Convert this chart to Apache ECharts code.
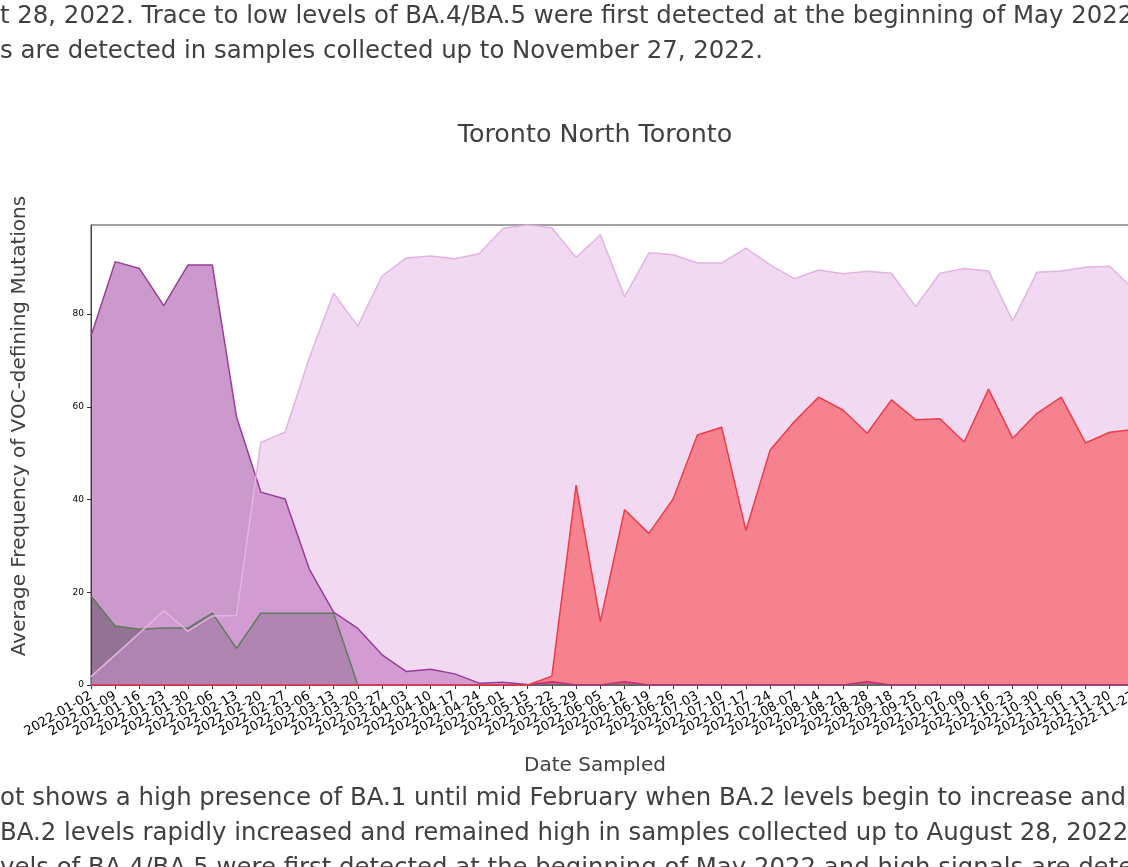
<!DOCTYPE html>
<html>
<head>
<meta charset="utf-8">
<script src="https://cdn.jsdelivr.net/npm/echarts@6/dist/echarts.min.js"></script>
<style>
html, body { margin: 0; padding: 0; width: 1128px; height: 867px; overflow: hidden; background: #fff; }
#chart { position: absolute; left: 0; top: 0; width: 1160px; height: 867px; }
.para { position: absolute; left: 0; white-space: nowrap; font-family: 'DejaVu Sans'; font-size: 24.4px; line-height: 35px; color: #404040; }
</style>
</head>
<body>
<div id="chart"></div>
<div class="para" style="top:-3px">t 28, 2022. Trace to low levels of BA.4/BA.5 were first detected at the beginning of May 2022</div>
<div class="para" style="top:32px">s are detected in samples collected up to November 27, 2022.</div>
<div class="para" style="top:779px">ot shows a high presence of BA.1 until mid February when BA.2 levels begin to increase and</div>
<div class="para" style="top:814px">BA.2 levels rapidly increased and remained high in samples collected up to August 28, 2022.</div>
<div class="para" style="top:849px">vels of BA.4/BA.5 were first detected at the beginning of May 2022 and high signals are detected</div>
<script>
const dates = ['2022-01-02','2022-01-09','2022-01-16','2022-01-23','2022-01-30','2022-02-06','2022-02-13','2022-02-20','2022-02-27','2022-03-06','2022-03-13','2022-03-20','2022-03-27','2022-04-03','2022-04-10','2022-04-17','2022-04-24','2022-05-01','2022-05-15','2022-05-22','2022-05-29','2022-06-05','2022-06-12','2022-06-19','2022-06-26','2022-07-03','2022-07-10','2022-07-17','2022-07-24','2022-08-07','2022-08-14','2022-08-21','2022-08-28','2022-09-18','2022-09-25','2022-10-02','2022-10-09','2022-10-16','2022-10-23','2022-10-30','2022-11-06','2022-11-13','2022-11-20','2022-11-27'];

const ba1 = [75.2, 91.3, 89.8, 81.8, 90.6, 90.6, 57.8, 41.6, 40.1, 25.0, 15.7, 12.2, 6.5, 2.9, 3.4, 2.4, 0.4, 0.6, 0.1, 0, 0, 0, 0, 0, 0, 0, 0, 0, 0, 0, 0, 0, 0, 0, 0, 0, 0, 0, 0, 0, 0, 0, 0, 0];
const other = [19.2, 12.7, 12.0, 12.3, 12.3, 15.5, 7.9, 15.5, 15.5, 15.5, 15.5, 0, 0, 0, 0, 0, 0, 0, 0, 0, 0, 0, 0, 0, 0, 0, 0, 0, 0, 0, 0, 0, 0, 0, 0, 0, 0, 0, 0, 0, 0, 0, 0, 0];
const ba2 = [1.8, 6.5, 11.2, 16.0, 11.6, 14.9, 15.0, 52.3, 54.5, 70.5, 84.5, 77.4, 88.2, 92.1, 92.5, 91.9, 93.0, 98.5, 99.2, 98.6, 92.2, 97.1, 83.7, 93.2, 92.8, 91.0, 91.0, 94.2, 90.6, 87.6, 89.5, 88.7, 89.2, 88.8, 81.6, 88.8, 89.8, 89.3, 78.5, 89.0, 89.3, 90.1, 90.3, 85.2];
const ba5 = [0, 0, 0, 0, 0, 0, 0, 0, 0, 0, 0, 0, 0, 0, 0, 0, 0, 0, 0, 1.9, 43.1, 13.7, 37.8, 32.7, 40.1, 53.9, 55.6, 33.3, 50.7, 56.8, 62.1, 59.3, 54.3, 61.5, 57.2, 57.4, 52.4, 63.8, 53.2, 58.6, 62.1, 52.2, 54.5, 55.1];
const ba4 = [0, 0, 0, 0, 0, 0, 0, 0, 0, 0, 0, 0, 0, 0, 0, 0, 0, 0, 0, 0.7, 0, 0, 0.7, 0, 0, 0, 0, 0, 0, 0, 0, 0, 0.7, 0, 0, 0, 0, 0, 0, 0, 0, 0, 0, 0];
const yTicks = [0, 20, 40, 60, 80];

const layers = [
  { name: 'BA.1', data: ba1, fill: 'rgba(128,0,128,0.4)', line: '#9a3d9a' },
  { name: 'Other', data: other, fill: 'rgba(40,40,40,0.35)', line: '#5f7a5f' },
  { name: 'BA.2', data: ba2, fill: 'rgba(221,160,221,0.4)', line: '#e2b4e2' },
  { name: 'BA.4', data: ba4, fill: 'rgba(199,21,133,0.4)', line: '#b8307a' },
  { name: 'BA.5', data: ba5, fill: 'rgba(255,0,0,0.4)', line: '#f03c48' }
];

const series = [];
layers.forEach((l, i) => {
  series.push({
    name: l.name, type: 'line', data: l.data, showSymbol: false, silent: true,
    lineStyle: { width: 0, opacity: 0 },
    areaStyle: { color: l.fill, opacity: 1 },
    z: 2 + i * 0.01
  });
});
layers.forEach((l, i) => {
  series.push({
    name: l.name + ' line', type: 'line', data: l.data, showSymbol: false, silent: true,
    lineStyle: { width: 1.5, color: l.line },
    z: 3 + i * 0.01
  });
});

const chart = echarts.init(document.getElementById('chart'), null, { renderer: 'canvas' });
const font = 'DejaVu Sans';
chart.setOption({
  animation: false,
  backgroundColor: 'transparent',
  textStyle: { fontFamily: font },
  grid: { left: 91, top: 225, right: 26, bottom: 182, show: true, borderColor: '#444', borderWidth: 1, containLabel: false },
  xAxis: {
    type: 'category', data: dates, boundaryGap: false,
    axisLine: { show: true, onZero: false, lineStyle: { color: '#444', width: 1 } },
    axisTick: { show: true, interval: 0, length: 4, lineStyle: { color: '#333' } },
    axisLabel: { interval: 0, rotate: 30, fontSize: 13, color: '#000', fontFamily: font, margin: 10 },
    splitLine: { show: false }
  },
  yAxis: {
    type: 'value', min: 0, max: function (v) { return v.max; }, interval: 20,
    axisLine: { show: true, lineStyle: { color: '#444', width: 1 } },
    axisTick: { show: true, length: 4, customValues: yTicks, lineStyle: { color: '#333' } },
    axisLabel: { customValues: yTicks, fontSize: 9, color: '#000', fontFamily: font, margin: 7 },
    splitLine: { show: false }
  },
  graphic: [
    { type: 'text', x: 595, y: 135, style: { text: 'Toronto North Toronto', font: '25.4px "DejaVu Sans"', fill: '#404040', align: 'center', verticalAlign: 'middle', textAlign: 'center', textVerticalAlign: 'middle' } },
    { type: 'text', x: 595, y: 766, style: { text: 'Date Sampled', font: '20px "DejaVu Sans"', fill: '#404040', align: 'center', verticalAlign: 'middle', textAlign: 'center', textVerticalAlign: 'middle' } },
    { type: 'text', x: 20, y: 426, rotation: Math.PI / 2, style: { text: 'Average Frequency of VOC-defining Mutations', font: '20px "DejaVu Sans"', fill: '#404040', align: 'center', verticalAlign: 'middle', textAlign: 'center', textVerticalAlign: 'middle' } }
  ],
  series: series
});
</script>
</body>
</html>
